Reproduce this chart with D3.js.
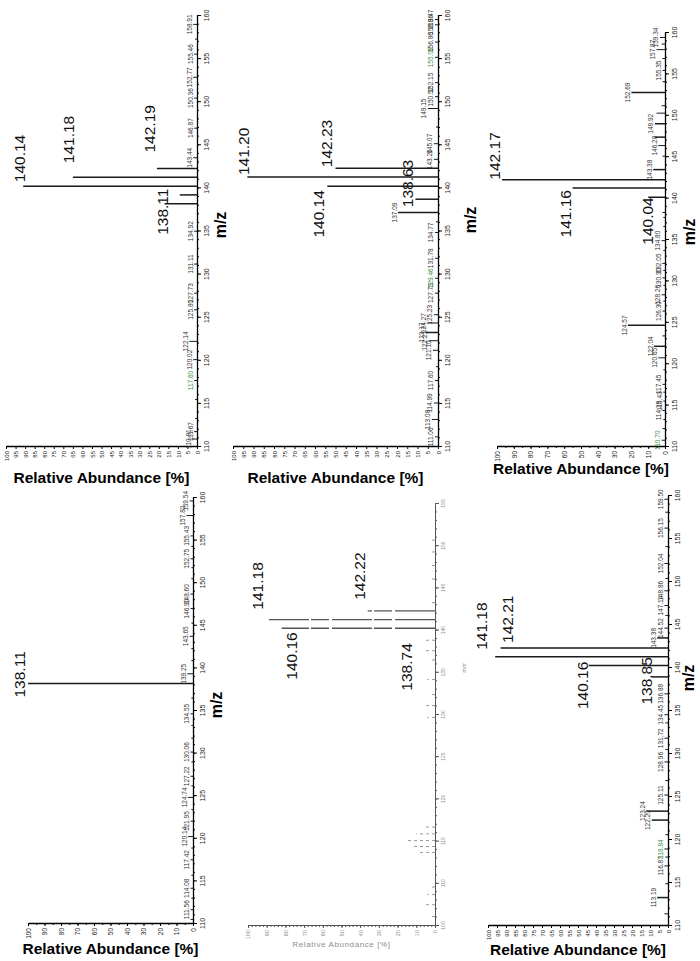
<!DOCTYPE html>
<html><head><meta charset="utf-8">
<script src="https://cdn.jsdelivr.net/npm/d3@7"></script>
<style>body{margin:0;background:#fff}svg{display:block}</style>
</head><body><svg id="c" width="700" height="961"></svg>
<script>
// ---------------- DATA ----------------
const mzTicks = [110,115,120,125,130,135,140,145,150,155,160];
const mzTicksD = [105,110,115,120,125,130,135,140,145,150,155];

// Panel A (screen top-left)
const aMz  = [110.81,111.67,113.2,115.4,117.60,120.02,122.14,125.80,127.73,131.11,134.92,138.11,139.13,140.14,141.18,142.19,143.44,146.87,150.36,152.77,155.46,157.2,158.91];
const aInt = [2.5,1.5,1,1,1.5,2,4,1.5,1.5,1.5,1.5,17,9,91,65,21,2,1.5,1.5,2,1.5,1,2];
const aBig = [138.11,140.14,141.18,142.19];
const aSmall = [110.81,111.67,117.60,120.02,122.14,125.80,127.73,131.11,134.92,143.44,146.87,150.36,152.77,155.46,158.91];

// Panel B (screen bottom-left)
const bMz  = [110.42,111.56,112.9,114.08,115.6,117.42,118.8,120.14,121.95,123.3,124.74,126.1,127.22,128.9,130.06,131.7,133.2,134.55,136.4,138.11,139.25,140.8,142.2,143.65,145.2,146.90,148.60,150.4,151.7,152.75,154.2,155.43,157.82,159.54];
const bInt = [1.5,1.5,1,1.5,1,1.5,1,3,1.5,1,3,1,1.5,1,1.5,1,1,1.5,1,100,3.5,1,1,2,1,1.5,1.5,1,1,1.5,1,1.5,4,2];
const bBig = [138.11];
const bSmall = [111.56,114.08,117.42,120.14,121.95,124.74,127.22,130.06,134.55,139.25,143.65,146.90,148.60,152.75,155.43,157.82,159.54];

// Panel C (screen middle-top)
const cMz  = [111.06,113.08,114.99,117.60,119.2,121.10,122.21,123.17,124.27,125.23,127.73,129.46,131.78,134.77,136.0,137.09,138.63,140.14,141.20,142.23,143.26,145.07,147.0,149.15,150.52,152.15,155.09,156.86,158.86,159.47];
const cInt = [1.5,3,2,1.5,1,2.5,4.5,6,5,2,1.5,1.5,1.5,1.5,1,19.5,11,54,93,50,2,2,1,5,1.5,1.5,1.5,1.5,1.5,1.5];
const cBig = [138.63,140.14,141.20,142.23];
const cSmall = [111.06,113.08,114.99,117.60,121.10,122.21,123.17,124.27,125.23,127.73,129.46,131.78,134.77,137.09,143.26,145.07,149.15,150.52,152.15,155.09,156.86,158.86,159.47];

// Panel D (screen middle-bottom, faded scan)
const dMz  = [106.0,107.4,108.6,109.5,113.6,114.3,115.0,115.8,116.6,129.6,131.0,132.3,134.1,136.4,137.5,138.74,140.16,141.18,142.22,143.2,146.0,147.6,149.2,150.6];
const dInt = [3,5,4,3,8,12,15,10,6,4,5,3,4,3,5,6,82,90,36,3,3,2,3,2];
const dBig = [138.74,140.16,141.18,142.22];

// Panel E (screen right-top)
const eMz  = [110.70,112.1,113.2,114.28,115.43,116.5,117.45,119.2,120.65,122.04,123.3,124.57,126.30,127.5,128.26,129.4,130.30,131.2,132.05,133.6,134.80,136.5,137.6,138.2,140.04,141.16,142.17,143.38,145.0,146.28,147.3,148.92,150.2,151.1,152.69,154.0,155.35,156.8,157.87,158.54,159.34];
const eInt = [2,1.5,1,1.5,1,1,1.5,1,4,6.5,1.5,22,1.5,1,2,1,1.5,1,1.5,1,2,1,1,1.5,10,55,97,7,1.5,4,6,6,5,2,20,1.5,1.5,1.5,5,2,3];
const eBig = [140.04,141.16,142.17];
const eSmall = [110.70,114.28,115.43,117.45,120.65,122.04,124.57,126.30,128.26,130.30,132.05,134.80,143.38,146.28,148.92,152.69,155.35,157.87,159.34];

// Panel F (screen right-bottom)
const fMz  = [111.3,113.19,114.8,116.87,117.9,118.84,120.5,122.20,123.24,125.11,126.8,128.96,130.4,131.72,133.5,134.45,136.88,138.85,140.16,141.18,142.21,143.38,144.52,146.0,147.14,148.86,150.3,152.04,154.0,156.15,158.0,159.50];
const fInt = [2,6,1.5,2,1.5,2,1.5,9,12,2,1.5,2,1.5,2,1.5,2,2,9,44,96,93,6,2,1.5,2,2,1.5,2,1.5,2,1.5,2];
const fBig = [138.85,140.16,141.18,142.21];
const fSmall = [113.19,116.87,118.84,122.20,123.24,125.11,128.96,131.72,134.45,136.88,143.38,144.52,147.14,148.86,152.04,156.15,159.50];

const abTicks5 = d3.range(0,101,5);
const abTicks10 = d3.range(0,101,10);

// ---------------- LAYOUT ----------------
const FONT = "'Liberation Sans', Arial, Helvetica, sans-serif";
const panels = [
  {mz:aMz,int:aInt,big:aBig,small:aSmall,x0:197,x100:6,yLo:446,yHi:15,dom:[110,160],ticks:mzTicks,ab:abTicks5,abMinor:null,
   anchor:["middle","start","start","start"],dx:[3,2,1,-2],dy:[8,-4,-14,-16],mzLab:[226,225],raY:483,green:[117.60]},
  {mz:bMz,int:bInt,big:bBig,small:bSmall,x0:193,x100:28,yLo:923,yHi:497,dom:[110,160],ticks:mzTicks,ab:abTicks10,abMinor:abTicks5,
   anchor:["start"],dx:[-3],dy:[14],mzLab:[222,705],raY:954,green:[]},
  {mz:cMz,int:cInt,big:cBig,small:cSmall,x0:438,x100:233,yLo:446,yHi:15,dom:[110,160],ticks:mzTicks,ab:abTicks5,abMinor:null,
   anchor:["start","end","start","start"],dx:[-2,-3,2,-4],dy:[8,4,-2,-1],mzLab:[476,220],raY:483,green:[129.46,155.09]},
  {mz:eMz,int:eInt,big:eBig,small:eSmall,x0:665,x100:497,yLo:446,yHi:32,dom:[110,160],ticks:mzTicks,ab:abTicks10,abMinor:abTicks5,
   anchor:["end","end","start"],dx:[5,-2,-2],dy:[0,2,0],mzLab:[695,232],raY:474,green:[110.70]},
  {mz:fMz,int:fInt,big:fBig,small:fSmall,x0:668,x100:488,yLo:925,yHi:495,dom:[110,160],ticks:mzTicks,ab:abTicks5,abMinor:null,
   anchor:["middle","end","start","start"],dx:[0,-1,-8,12],dy:[4,-4,-7,-5],mzLab:[694,678],raY:955,green:[118.84]}
];

const svg = d3.select("#c");
const fmt = d3.format(".2f");

function drawPanel(p){
  const g = svg.append("g").attr("font-family",FONT);
  const y = d3.scaleLinear().domain(p.dom).range([p.yLo,p.yHi]);
  const x = d3.scaleLinear().domain([0,100]).range([p.x0,p.x100]);
  g.append("g").attr("transform",`translate(${p.x0},0)`)
    .call(d3.axisRight(y).tickValues(d3.range(p.dom[0],p.dom[1]+0.01,1)).tickSize(2).tickSizeOuter(0).tickFormat(""))
    .call(s=>s.select(".domain").remove());
  const ax = g.append("g").attr("transform",`translate(${p.x0},0)`)
    .call(d3.axisRight(y).tickValues(p.ticks).tickSize(4).tickSizeOuter(0).tickFormat(d3.format("d")));
  ax.select(".domain").attr("stroke-width",1.3);
  ax.selectAll("text").attr("x",0).attr("dy",0).attr("text-anchor","middle")
    .attr("font-size",7).attr("font-family",FONT).attr("fill","#222")
    .attr("transform","translate(12,0) rotate(-90)");
  if(p.abMinor){
    g.append("g").attr("transform",`translate(0,${p.yLo})`)
      .call(d3.axisBottom(x).tickValues(p.abMinor).tickSize(2).tickSizeOuter(0).tickFormat(""))
      .call(s=>s.select(".domain").remove());
  }
  const ay = g.append("g").attr("transform",`translate(0,${p.yLo})`)
    .call(d3.axisBottom(x).tickValues(p.ab).tickSize(3).tickSizeOuter(0).tickFormat(d3.format("d")));
  ay.select(".domain").attr("stroke-width",1.3);
  ay.selectAll("text").attr("y",0).attr("dy","0.35em").attr("text-anchor","end")
    .attr("font-size",p.abMinor?6.5:6).attr("font-family",FONT).attr("fill","#222")
    .attr("transform","translate(0,5) rotate(-90)");
  const data = p.mz.map((m,i)=>({m,v:p.int[i]}));
  g.selectAll("line.pk").data(data).join("line").attr("class","pk")
    .attr("x1",p.x0).attr("x2",d=>x(d.v)).attr("y1",d=>y(d.m)).attr("y2",d=>y(d.m))
    .attr("stroke","#1a1a1a").attr("stroke-width",d=>d.v>5?1.5:1);
  g.selectAll("text.sm").data(data.filter(d=>p.small.includes(d.m))).join("text").attr("class","sm")
    .attr("transform",d=>`translate(${x(d.v)-1.5},${y(d.m)}) rotate(-90)`)
    .attr("text-anchor","middle").attr("font-size",6.5)
    .attr("fill",d=>p.green.includes(d.m)?"#3f8f3f":"#333").text(d=>fmt(d.m));
  const bigD = p.big.map((m,i)=>({m,v:p.int[p.mz.indexOf(m)],a:p.anchor[i],dx:p.dx[i],dy:p.dy[i]}));
  g.selectAll("text.bg").data(bigD).join("text").attr("class","bg")
    .attr("transform",d=>`translate(${x(d.v)+d.dx},${y(d.m)+d.dy}) rotate(-90)`)
    .attr("text-anchor",d=>d.a).attr("font-size",15.5).attr("fill","#111").text(d=>fmt(d.m));
  g.append("text").attr("transform",`translate(${p.mzLab[0]},${p.mzLab[1]}) rotate(-90)`)
    .attr("text-anchor","middle").attr("font-size",16).attr("font-weight","bold").text("m/z");
  g.append("text").attr("x",(p.x0+p.x100)/2).attr("y",p.raY)
    .attr("text-anchor","middle").attr("font-size",15.5).attr("font-weight","bold").text("Relative Abundance [%]");
}
panels.forEach(drawPanel);

// Panel D: faded grey scanned spectrum
(function(){
  const col = "#8c8c8c";
  const x0=435, x100=248, yLo=925, yHi=503;
  const g = svg.append("g").attr("font-family",FONT);
  const y = d3.scaleLinear().domain([105,155]).range([yLo,yHi]);
  const x = d3.scaleLinear().domain([0,100]).range([x0,x100]);
  g.append("g").attr("transform",`translate(${x0},0)`)
    .call(d3.axisRight(y).tickValues(d3.range(105,155.01,1)).tickSize(2).tickSizeOuter(0).tickFormat(""))
    .call(s=>s.select(".domain").remove()).selectAll("line").attr("stroke","#555");
  const ax = g.append("g").attr("transform",`translate(${x0},0)`)
    .call(d3.axisRight(y).tickValues(mzTicksD).tickSize(4).tickSizeOuter(0).tickFormat(d3.format("d")));
  ax.selectAll("line,path").attr("stroke","#555");
  ax.selectAll("text").attr("x",0).attr("dy",0).attr("text-anchor","middle").attr("font-size",5)
    .attr("fill",col).attr("transform","translate(10,0) rotate(-90)");
  g.append("g").attr("transform",`translate(0,${yLo})`)
    .call(d3.axisBottom(x).tickValues(d3.range(0,101,2)).tickSize(2).tickSizeOuter(0).tickFormat(""))
    .call(s=>s.select(".domain").remove()).selectAll("line").attr("stroke","#555");
  const ay = g.append("g").attr("transform",`translate(0,${yLo})`)
    .call(d3.axisBottom(x).tickValues(abTicks10).tickSize(3).tickSizeOuter(0).tickFormat(d3.format("d")));
  ay.selectAll("line,path").attr("stroke","#555");
  ay.selectAll("text").attr("y",0).attr("dy","0.35em").attr("text-anchor","end").attr("font-size",5.5)
    .attr("fill",col).attr("transform","translate(0,5) rotate(-90)");
  const data = dMz.map((m,i)=>({m,v:dInt[i]}));
  g.selectAll("line.pk").data(data).join("line").attr("class","pk")
    .attr("x1",x0).attr("x2",d=>x(d.v)).attr("y1",d=>y(d.m)).attr("y2",d=>y(d.m))
    .attr("stroke",d=>d.v>20?"#555":"#999").attr("stroke-width",d=>d.v>20?1.3:1)
    .attr("stroke-dasharray",d=>d.v>20?"40,3,18,2":"3,3");
  const bigD = dBig.map(m=>({m,v:dInt[dMz.indexOf(m)]}));
  const anch = ["end","end","start","start"], ddx=[-12,15,-4,-3], ddy=[3,4,-10,-11];
  g.selectAll("text.bg").data(bigD).join("text").attr("class","bg")
    .attr("transform",(d,i)=>`translate(${x(d.v)+ddx[i]},${y(d.m)+ddy[i]}) rotate(-90)`)
    .attr("text-anchor",(d,i)=>anch[i]).attr("font-size",15.5).attr("fill","#111").text(d=>fmt(d.m));
  g.append("text").attr("transform",`translate(466,668) rotate(-90)`).attr("text-anchor","middle")
    .attr("font-size",6).attr("fill",col).text("m/z");
  g.append("text").attr("x",(x0+x100)/2).attr("y",947).attr("text-anchor","middle")
    .attr("font-size",8).attr("letter-spacing",0.6).attr("fill",col).text("Relative Abundance [%]");
})();
</script></body></html>
